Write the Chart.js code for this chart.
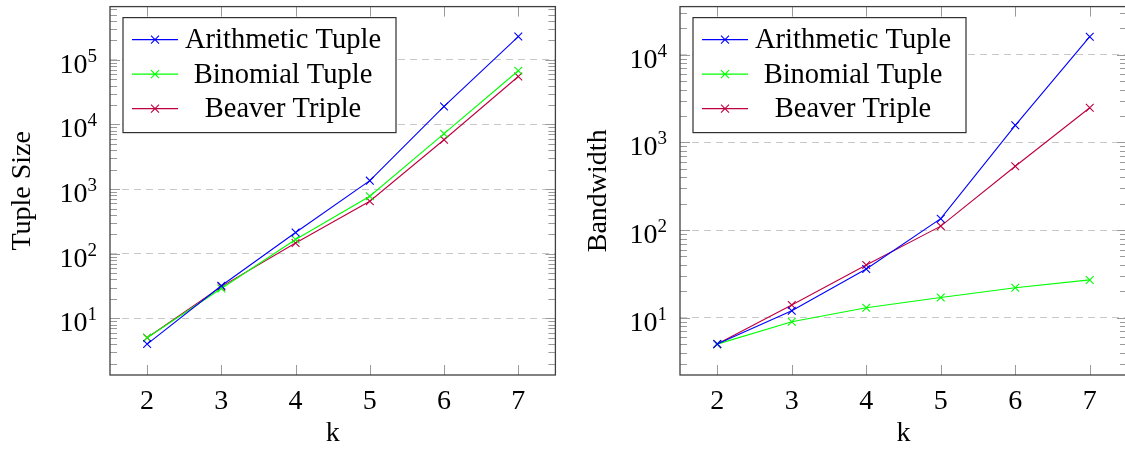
<!DOCTYPE html>
<html>
<head>
<meta charset="utf-8">
<script src="https://cdn.jsdelivr.net/npm/chart.js@4.4.1/dist/chart.umd.min.js"></script>
<style>
  html, body { margin: 0; padding: 0; background: #fff; width: 1125px; height: 450px; overflow: hidden; }
  #left { position: absolute; left: 0; top: 0; }
  #right { position: absolute; left: 565px; top: 0; }
</style>
</head>
<body>
<canvas id="left" width="562" height="450"></canvas>
<canvas id="right" width="570" height="450"></canvas>
<script>
// values
const kValues = ['2', '3', '4', '5', '6', '7'];
const seriesNames = ['Arithmetic Tuple', 'Binomial Tuple', 'Beaver Triple'];
const seriesColors = ['#0000ff', '#00ff00', '#bf0040'];

const sizeArithmetic = [4, 32, 213, 1350, 19000, 229000];
const sizeBinomial = [5, 29, 166, 774, 7200, 67600];
const sizeBeaver = [5, 31, 147, 648, 5800, 55200];

const bwArithmetic = [5, 12, 36, 135, 1570, 16100];
const bwBinomial = [5, 9, 13, 17, 22, 27];
const bwBeaver = [5, 14, 40, 111, 535, 2490];

const FONT = "'Liberation Serif', 'Times New Roman', serif";

// pgfplots-like frame: box, tick marks, 10^n labels, legend
const framePlugin = {
  id: 'frame',
  afterDatasetsDraw(chart) {
    const ctx = chart.ctx;
    const a = chart.chartArea;
    const ys = chart.scales.y;
    const xs = chart.scales.x;
    ctx.save();

    // tick marks
    ctx.strokeStyle = '#9a9a9a';
    ctx.lineWidth = 1;
    ctx.beginPath();
    const lo = Math.floor(Math.log10(ys.min));
    const hi = Math.ceil(Math.log10(ys.max));
    for (let d = lo; d <= hi; d++) {
      for (let m = 1; m <= 9; m++) {
        const v = m * Math.pow(10, d);
        if (v < ys.min || v > ys.max) continue;
        const y = Math.round(ys.getPixelForValue(v)) + 0.5;
        const len = m === 1 ? 10 : 7;
        ctx.moveTo(a.left, y); ctx.lineTo(a.left + len, y);
        ctx.moveTo(a.right, y); ctx.lineTo(a.right - len, y);
      }
    }
    xs.ticks.forEach((t, i) => {
      const x = Math.round(xs.getPixelForTick(i)) + 0.5;
      ctx.moveTo(x, a.bottom); ctx.lineTo(x, a.bottom - 10);
      ctx.moveTo(x, a.top); ctx.lineTo(x, a.top + 10);
    });
    ctx.stroke();

    // box
    ctx.strokeStyle = '#404040';
    ctx.lineWidth = 1.3;
    ctx.strokeRect(a.left, a.top, a.right - a.left, a.bottom - a.top);

    // y labels 10^n
    ctx.fillStyle = '#000';
    ctx.textBaseline = 'alphabetic';
    for (let d = lo; d <= hi; d++) {
      const v = Math.pow(10, d);
      if (v < ys.min || v > ys.max || d < 1) continue;
      const y = ys.getPixelForValue(v);
      ctx.font = '19px ' + FONT;
      const sup = String(d);
      const ws = ctx.measureText(sup).width;
      ctx.font = '28px ' + FONT;
      const wb = ctx.measureText('10').width;
      const right = a.left - 13;
      ctx.textAlign = 'left';
      ctx.fillText('10', right - ws - wb, y + 13);
      ctx.font = '19px ' + FONT;
      ctx.fillText(sup, right - ws, y + 2);
    }

    // legend
    const lx = a.left + 13, ly = a.top + 11, lw = 273, lh = 115;
    ctx.fillStyle = '#fff';
    ctx.fillRect(lx, ly, lw, lh);
    ctx.strokeStyle = '#303030';
    ctx.lineWidth = 1.2;
    ctx.strokeRect(lx, ly, lw, lh);
    chart.data.datasets.forEach((ds, i) => {
      const cy = ly + 22 + i * 34.5;
      ctx.strokeStyle = ds.borderColor;
      ctx.lineWidth = 1.1;
      ctx.beginPath();
      ctx.moveTo(lx + 9, cy); ctx.lineTo(lx + 55, cy);
      const mx = lx + 32, r = 4;
      ctx.moveTo(mx - r, cy - r); ctx.lineTo(mx + r, cy + r);
      ctx.moveTo(mx - r, cy + r); ctx.lineTo(mx + r, cy - r);
      ctx.stroke();
      ctx.fillStyle = '#000';
      ctx.font = '28.5px ' + FONT;
      ctx.textAlign = 'center';
      ctx.textBaseline = 'middle';
      ctx.fillText(ds.label, lx + 160, cy + 1);
    });
    ctx.restore();
  }
};

function makeChart(id, series, yTitle, yMin, yMax, axisWidth, padRight, titlePad) {
  const datasets = series.map((vals, i) => ({
    label: seriesNames[i],
    data: vals,
    borderColor: seriesColors[i],
    backgroundColor: seriesColors[i],
    borderWidth: 1.1,
    pointStyle: 'crossRot',
    pointRadius: 5.5,
    pointBorderWidth: 1.1,
    tension: 0,
    fill: false
  }));
  return new Chart(document.getElementById(id), {
    type: 'line',
    data: { labels: kValues, datasets: datasets },
    options: {
      responsive: false,
      animation: false,
      layout: { padding: { top: 6, right: padRight, left: 0, bottom: 0 } },
      plugins: { legend: { display: false }, tooltip: { enabled: false } },
      scales: {
        x: {
          type: 'category',
          offset: true,
          grid: { display: false },
          border: { display: false },
          ticks: { color: '#000', font: { family: FONT, size: 28 }, padding: 2, maxRotation: 0 },
          title: { display: true, text: 'k', color: '#000', font: { family: FONT, size: 28 }, padding: { top: 0, bottom: 0 } },
          afterFit(scale) { scale.height = 75; }
        },
        y: {
          type: 'logarithmic',
          min: yMin,
          max: yMax,
          afterBuildTicks(scale) {
            const t = [];
            for (let d = 0; d <= 8; d++) {
              const v = Math.pow(10, d);
              if (v > scale.min && v < scale.max) t.push({ value: v });
            }
            scale.ticks = t;
          },
          ticks: { display: false },
          grid: { color: '#c8c8c8', lineWidth: 1, drawTicks: false },
          border: { display: false, dash: [7, 5] },
          title: { display: true, text: yTitle, color: '#000', font: { family: FONT, size: 28 }, padding: { top: titlePad, bottom: 0 } },
          afterFit(scale) { scale.width = axisWidth; }
        }
      }
    },
    plugins: [framePlugin]
  });
}

makeChart('left', [sizeArithmetic, sizeBinomial, sizeBeaver], 'Tuple Size', 1.33, 665000, 110, 5, 6);
makeChart('right', [bwArithmetic, bwBinomial, bwBeaver], 'Bandwidth', 2.22, 35500, 115, 8, 17);
</script>
</body>
</html>
